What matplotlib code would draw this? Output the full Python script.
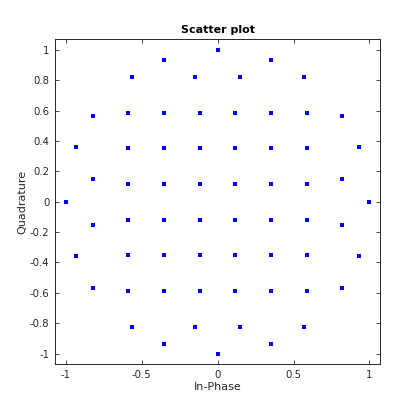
import matplotlib
matplotlib.use("Agg")
import matplotlib.pyplot as plt

# constellation points (inner 6x6 grid + outer ring)
grid_vals = [-0.588, -0.353, -0.118, 0.118, 0.353, 0.588]

outer_i = [1.0, 0.934, 0.822, 0.822, 0.566, 0.355, 0.151,
           0.0, -0.151, -0.355, -0.566, -0.822, -0.822, -0.934,
           -1.0, -0.934, -0.822, -0.822, -0.566, -0.355, -0.151,
           0.0, 0.151, 0.355, 0.566, 0.822, 0.822, 0.934]
outer_q = [0.0, 0.36, 0.151, 0.566, 0.822, 0.934, 0.822,
           1.0, 0.822, 0.934, 0.822, 0.566, 0.151, 0.36,
           0.0, -0.36, -0.151, -0.566, -0.822, -0.934, -0.822,
           -1.0, -0.822, -0.934, -0.822, -0.566, -0.151, -0.36]

x_ticks = [-1, -0.5, 0, 0.5, 1]
x_labels = ["-1", "-0.5", "0", "0.5", "1"]
y_ticks = [-1, -0.8, -0.6, -0.4, -0.2, 0, 0.2, 0.4, 0.6, 0.8, 1]
y_labels = ["-1", "-0.8", "-0.6", "-0.4", "-0.2", "0", "0.2", "0.4", "0.6", "0.8", "1"]

inner_i = [gx for gy in grid_vals for gx in grid_vals]
inner_q = [gy for gy in grid_vals for gx in grid_vals]

all_i = inner_i + outer_i
all_q = inner_q + outer_q

fig = plt.figure(figsize=(4.2, 4.2), dpi=100)
ax = fig.add_axes([0.131, 0.133, 0.774, 0.773])

ax.plot(all_i, all_q, linestyle="none", marker="s", markersize=2.2,
        color=(0, 0, 1), markeredgewidth=0)

ax.set_xlim(-1.07, 1.07)
ax.set_ylim(-1.07, 1.07)
ax.set_xticks(x_ticks)
ax.set_xticklabels(x_labels)
ax.set_yticks(y_ticks)
ax.set_yticklabels(y_labels)

txt = (0.15, 0.15, 0.15)
ax.tick_params(direction="in", length=3, width=0.6, top=True, right=True,
               labelsize=7.3, colors=txt, pad=4)
for s in ax.spines.values():
    s.set_linewidth(0.7)
    s.set_color(txt)

ax.set_xlabel("In-Phase", fontsize=8, color=txt, labelpad=2)
ax.set_ylabel("Quadrature", fontsize=8, color=txt, labelpad=2)
ax.set_title("Scatter plot", fontsize=8, fontweight="bold", pad=5)

fig.savefig("out.png", dpi=100)
